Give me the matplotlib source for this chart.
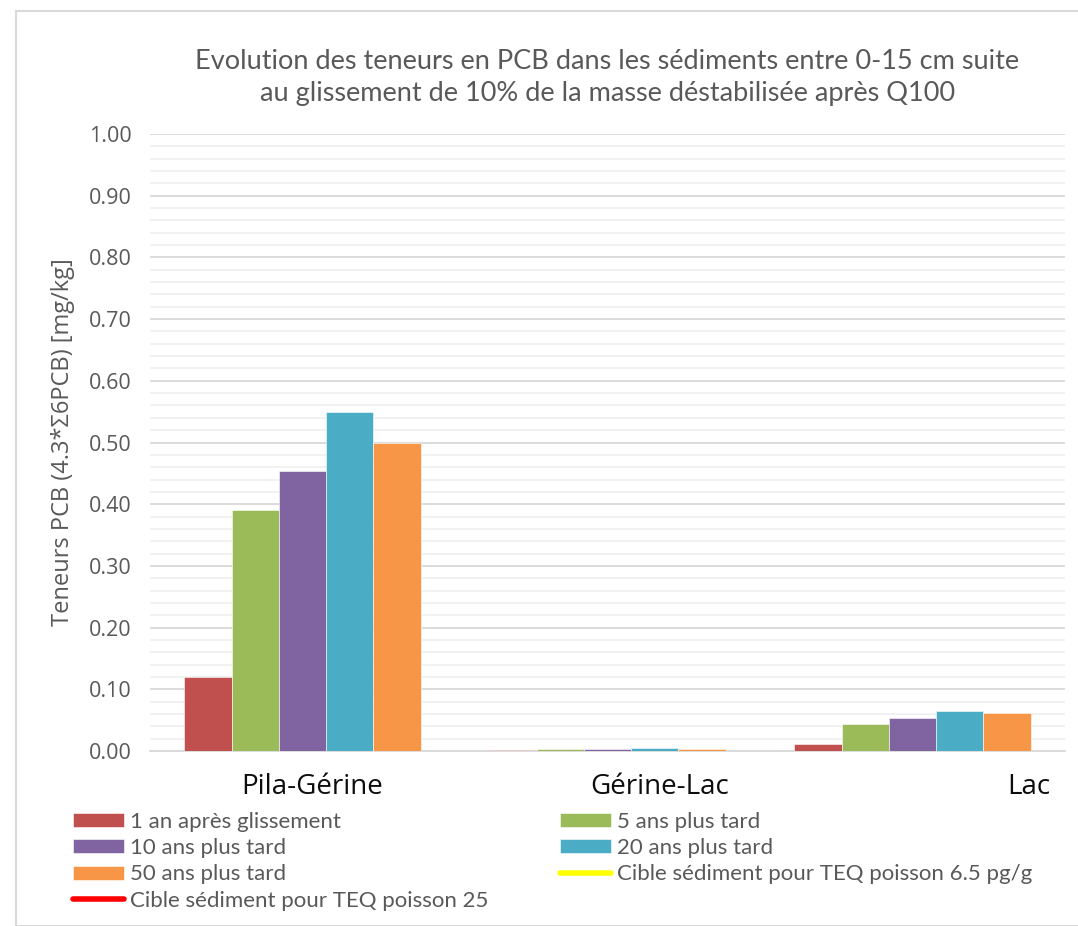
import matplotlib
matplotlib.use("Agg")
import matplotlib.pyplot as plt
import matplotlib.transforms as mtransforms
from matplotlib.patches import Rectangle
from matplotlib.lines import Line2D
import numpy as np

categories = ["Pila-Gérine", "Gérine-Lac", "Lac"]
series_names = ["1 an après glissement", "5 ans plus tard", "10 ans plus tard",
                "20 ans plus tard", "50 ans plus tard"]
values_1an = [0.120, 0.001, 0.012]
values_5ans = [0.390, 0.003, 0.044]
values_10ans = [0.454, 0.004, 0.053]
values_20ans = [0.550, 0.005, 0.065]
values_50ans = [0.500, 0.004, 0.061]
target_names = ["Cible sédiment pour TEQ poisson 6.5 pg/g", "Cible sédiment pour TEQ poisson 25"]
yticks = [0.0, 0.1, 0.2, 0.3, 0.4, 0.5, 0.6, 0.7, 0.8, 0.9, 1.0]

title = "Evolution des teneurs en PCB dans les sédiments entre 0-15 cm suite\nau glissement de 10% de la masse déstabilisée après Q100"
ylabel = "Teneurs PCB (4.3*Σ6PCB) [mg/kg]"

colors = ["#C0504D", "#9BBB59", "#8064A2", "#4BACC6", "#F79646"]
target_colors = ["#FFFF00", "#FF0000"]
txt = "#595959"
FONT = ["Lato", "DejaVu Sans"]
TICKFONT = ["Open Sans", "DejaVu Sans"]

fig = plt.figure(figsize=(10.78, 9.26), dpi=100)
ax = fig.add_axes([150/1078, 1-751/926, (1065-150)/1078, (751-134)/926])

all_vals = [values_1an, values_5ans, values_10ans, values_20ans, values_50ans]
x = np.arange(len(categories))
w = 0.155
handles = []
for i, (vals, name, c) in enumerate(zip(all_vals, series_names, colors)):
    b = ax.bar(x + (i - 2) * w, vals, width=w, color=c, edgecolor="white",
               linewidth=0.4, label=name, zorder=3)
    handles.append(b)

ax.set_xlim(-0.5, 2.5)
ax.set_ylim(0, 1.0)
ax.set_yticks(yticks)
ax.set_yticklabels([f"{v:.2f}" for v in yticks], family=TICKFONT, fontsize=15.5, color=txt)
ax.set_yticks(np.arange(0, 1.0001, 0.02), minor=True)
ax.grid(axis="y", which="major", color="#d9d9d9", linewidth=1.3, zorder=0)
ax.grid(axis="y", which="minor", color="#f0f0f0", linewidth=1.3, zorder=0)
ax.tick_params(axis="y", which="both", length=0, pad=13)
ax.tick_params(axis="x", length=0, pad=16)
ax.set_xticks(x)
ax.set_xticklabels(categories, family=TICKFONT, fontsize=20, color="#0d0d0d")
offsets = [10, 52, 116]
for lab, dx in zip(ax.get_xticklabels(), offsets):
    lab.set_transform(lab.get_transform() + mtransforms.ScaledTranslation(dx/100, 0, fig.dpi_scale_trans))
for s in ["top", "right", "left"]:
    ax.spines[s].set_visible(False)
ax.spines["bottom"].set_color("#d9d9d9")
ax.spines["bottom"].set_linewidth(1.3)

ax.set_title(title, family=FONT, fontsize=19.5, color=txt, pad=24, linespacing=1.35)
ax.set_ylabel(ylabel, family=TICKFONT, fontsize=17, color=txt, labelpad=10)

# border
fig.patches.append(Rectangle((16/1078, 0), 1.2, 1 - 11/926, transform=fig.transFigure,
                             fill=False, edgecolor="#d9d9d9", linewidth=1.5))

t_handles = [Line2D([], [], color=c, linewidth=4, solid_capstyle="round") for c in target_colors]
leg_kw = dict(loc="upper left", frameon=False, prop={"family": FONT, "size": 16},
              labelcolor=txt, handlelength=2.3, handleheight=0.6, handletextpad=0.25,
              labelspacing=0.28, borderaxespad=0, borderpad=0)
leg1 = fig.legend([handles[0], handles[2], handles[4], t_handles[1]],
                  [series_names[0], series_names[2], series_names[4], target_names[1]],
                  bbox_to_anchor=(73/1078, 1 - 812/926), **leg_kw)
leg2 = fig.legend([handles[1], handles[3], t_handles[0]],
                  [series_names[1], series_names[3], target_names[0]],
                  bbox_to_anchor=(560/1078, 1 - 812/926), **leg_kw)

fig.savefig("out.png", dpi=100)
